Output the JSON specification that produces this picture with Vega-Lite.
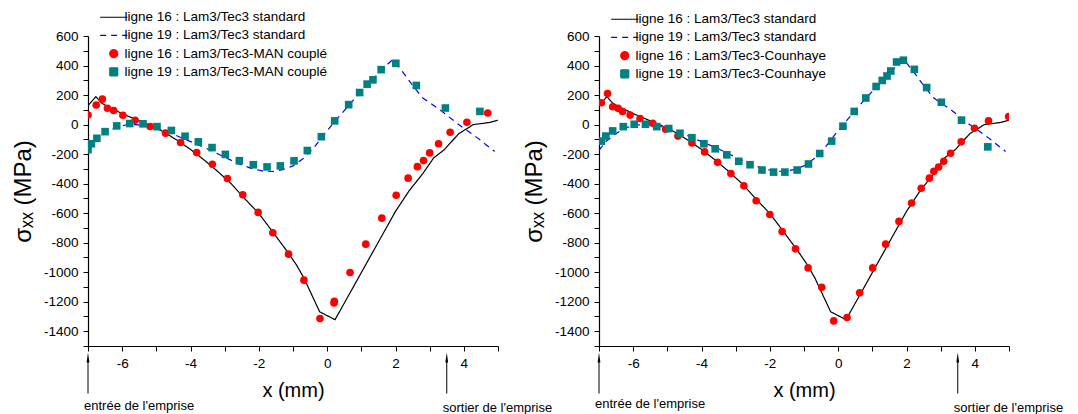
{
  "$schema": "https://vega.github.io/schema/vega-lite/v6.json",
  "background": "white",
  "padding": {"left": 11, "top": 10, "right": 5, "bottom": 0},
  "bounds": "flush",
  "spacing": 101,
  "config": {
    "view": {"stroke": null},
    "font": "Liberation Sans",
    "axis": {
      "grid": false,
      "domainColor": "#000000",
      "domainWidth": 1.2,
      "tickColor": "#000000",
      "tickWidth": 1,
      "tickSize": 5,
      "tickCount": 100,
      "labelColor": "#000000",
      "labelFont": "Liberation Sans",
      "labelFontSize": 13.5,
      "titleFont": "Liberation Sans",
      "titleFontWeight": "normal",
      "titleColor": "#000000",
      "labelFlush": false,
      "labelOverlap": false
    },
    "legend": {
      "orient": "none",
      "legendX": 14,
      "legendY": -25.5,
      "title": null,
      "labelFont": "Liberation Sans",
      "labelFontSize": 13.5,
      "labelColor": "#000000",
      "labelLimit": 400,
      "symbolSize": 64,
      "symbolOffset": 5,
      "labelOffset": 4,
      "rowPadding": 3.2,
      "symbolStrokeWidth": 1.2,
      "symbolOpacity": 1
    }
  },
  "datasets": {
    "pts": [
      {"s": "ligne 16 : Lam3/Tec3 standard", "x": -7.0, "y": 128},
      {"s": "ligne 16 : Lam3/Tec3 standard", "x": -6.77, "y": 189},
      {"s": "ligne 16 : Lam3/Tec3 standard", "x": -6.6, "y": 145},
      {"s": "ligne 16 : Lam3/Tec3 standard", "x": -6.4, "y": 118},
      {"s": "ligne 16 : Lam3/Tec3 standard", "x": -6.2, "y": 97},
      {"s": "ligne 16 : Lam3/Tec3 standard", "x": -6.0, "y": 74},
      {"s": "ligne 16 : Lam3/Tec3 standard", "x": -5.6, "y": 35},
      {"s": "ligne 16 : Lam3/Tec3 standard", "x": -5.2, "y": -3},
      {"s": "ligne 16 : Lam3/Tec3 standard", "x": -4.8, "y": -48},
      {"s": "ligne 16 : Lam3/Tec3 standard", "x": -4.4, "y": -105},
      {"s": "ligne 16 : Lam3/Tec3 standard", "x": -4.0, "y": -168},
      {"s": "ligne 16 : Lam3/Tec3 standard", "x": -3.6, "y": -240},
      {"s": "ligne 16 : Lam3/Tec3 standard", "x": -3.2, "y": -318},
      {"s": "ligne 16 : Lam3/Tec3 standard", "x": -2.8, "y": -403},
      {"s": "ligne 16 : Lam3/Tec3 standard", "x": -2.4, "y": -505},
      {"s": "ligne 16 : Lam3/Tec3 standard", "x": -2.0, "y": -602},
      {"s": "ligne 16 : Lam3/Tec3 standard", "x": -1.6, "y": -725},
      {"s": "ligne 16 : Lam3/Tec3 standard", "x": -1.2, "y": -850},
      {"s": "ligne 16 : Lam3/Tec3 standard", "x": -0.9, "y": -950},
      {"s": "ligne 16 : Lam3/Tec3 standard", "x": -0.68, "y": -1040},
      {"s": "ligne 16 : Lam3/Tec3 standard", "x": -0.22, "y": -1268},
      {"s": "ligne 16 : Lam3/Tec3 standard", "x": 0.23, "y": -1322},
      {"s": "ligne 16 : Lam3/Tec3 standard", "x": 2.0, "y": -588},
      {"s": "ligne 16 : Lam3/Tec3 standard", "x": 2.4, "y": -448},
      {"s": "ligne 16 : Lam3/Tec3 standard", "x": 2.8, "y": -332},
      {"s": "ligne 16 : Lam3/Tec3 standard", "x": 3.12, "y": -225},
      {"s": "ligne 16 : Lam3/Tec3 standard", "x": 3.42, "y": -172},
      {"s": "ligne 16 : Lam3/Tec3 standard", "x": 3.85, "y": -62},
      {"s": "ligne 16 : Lam3/Tec3 standard", "x": 4.28, "y": 0},
      {"s": "ligne 16 : Lam3/Tec3 standard", "x": 4.75, "y": 14},
      {"s": "ligne 16 : Lam3/Tec3 standard", "x": 5.0, "y": 30},

      {"s": "ligne 19 : Lam3/Tec3 standard", "x": -7.0, "y": -175},
      {"s": "ligne 19 : Lam3/Tec3 standard", "x": -6.8, "y": -115},
      {"s": "ligne 19 : Lam3/Tec3 standard", "x": -6.5, "y": -60},
      {"s": "ligne 19 : Lam3/Tec3 standard", "x": -6.2, "y": -20},
      {"s": "ligne 19 : Lam3/Tec3 standard", "x": -5.9, "y": -3},
      {"s": "ligne 19 : Lam3/Tec3 standard", "x": -5.6, "y": 0},
      {"s": "ligne 19 : Lam3/Tec3 standard", "x": -5.3, "y": -8},
      {"s": "ligne 19 : Lam3/Tec3 standard", "x": -5.0, "y": -25},
      {"s": "ligne 19 : Lam3/Tec3 standard", "x": -4.6, "y": -55},
      {"s": "ligne 19 : Lam3/Tec3 standard", "x": -4.3, "y": -86},
      {"s": "ligne 19 : Lam3/Tec3 standard", "x": -3.9, "y": -125},
      {"s": "ligne 19 : Lam3/Tec3 standard", "x": -3.5, "y": -165},
      {"s": "ligne 19 : Lam3/Tec3 standard", "x": -3.1, "y": -210},
      {"s": "ligne 19 : Lam3/Tec3 standard", "x": -2.6, "y": -265},
      {"s": "ligne 19 : Lam3/Tec3 standard", "x": -2.2, "y": -298},
      {"s": "ligne 19 : Lam3/Tec3 standard", "x": -1.9, "y": -314},
      {"s": "ligne 19 : Lam3/Tec3 standard", "x": -1.6, "y": -318},
      {"s": "ligne 19 : Lam3/Tec3 standard", "x": -1.3, "y": -305},
      {"s": "ligne 19 : Lam3/Tec3 standard", "x": -1.0, "y": -280},
      {"s": "ligne 19 : Lam3/Tec3 standard", "x": -0.7, "y": -230},
      {"s": "ligne 19 : Lam3/Tec3 standard", "x": -0.4, "y": -160},
      {"s": "ligne 19 : Lam3/Tec3 standard", "x": -0.1, "y": -70},
      {"s": "ligne 19 : Lam3/Tec3 standard", "x": 0.2, "y": 15},
      {"s": "ligne 19 : Lam3/Tec3 standard", "x": 0.5, "y": 95},
      {"s": "ligne 19 : Lam3/Tec3 standard", "x": 0.8, "y": 175},
      {"s": "ligne 19 : Lam3/Tec3 standard", "x": 1.1, "y": 250},
      {"s": "ligne 19 : Lam3/Tec3 standard", "x": 1.4, "y": 322},
      {"s": "ligne 19 : Lam3/Tec3 standard", "x": 1.7, "y": 395},
      {"s": "ligne 19 : Lam3/Tec3 standard", "x": 1.92, "y": 440},
      {"s": "ligne 19 : Lam3/Tec3 standard", "x": 2.2, "y": 360},
      {"s": "ligne 19 : Lam3/Tec3 standard", "x": 2.5, "y": 265},
      {"s": "ligne 19 : Lam3/Tec3 standard", "x": 2.8, "y": 180},
      {"s": "ligne 19 : Lam3/Tec3 standard", "x": 3.3, "y": 100},
      {"s": "ligne 19 : Lam3/Tec3 standard", "x": 3.85, "y": 0},
      {"s": "ligne 19 : Lam3/Tec3 standard", "x": 4.4, "y": -90},
      {"s": "ligne 19 : Lam3/Tec3 standard", "x": 4.9, "y": -182},

      {"s": "ligne 16 : Lam3/Tec3-MAN couplé", "x": -7.0, "y": 65},
      {"s": "ligne 16 : Lam3/Tec3-MAN couplé", "x": -6.76, "y": 133},
      {"s": "ligne 16 : Lam3/Tec3-MAN couplé", "x": -6.58, "y": 172},
      {"s": "ligne 16 : Lam3/Tec3-MAN couplé", "x": -6.43, "y": 111},
      {"s": "ligne 16 : Lam3/Tec3-MAN couplé", "x": -6.25, "y": 95},
      {"s": "ligne 16 : Lam3/Tec3-MAN couplé", "x": -5.98, "y": 63},
      {"s": "ligne 16 : Lam3/Tec3-MAN couplé", "x": -5.62, "y": 29},
      {"s": "ligne 16 : Lam3/Tec3-MAN couplé", "x": -5.18, "y": -13},
      {"s": "ligne 16 : Lam3/Tec3-MAN couplé", "x": -4.73, "y": -58},
      {"s": "ligne 16 : Lam3/Tec3-MAN couplé", "x": -4.29, "y": -121},
      {"s": "ligne 16 : Lam3/Tec3-MAN couplé", "x": -3.82, "y": -190},
      {"s": "ligne 16 : Lam3/Tec3-MAN couplé", "x": -3.36, "y": -269},
      {"s": "ligne 16 : Lam3/Tec3-MAN couplé", "x": -2.92, "y": -365},
      {"s": "ligne 16 : Lam3/Tec3-MAN couplé", "x": -2.47, "y": -475},
      {"s": "ligne 16 : Lam3/Tec3-MAN couplé", "x": -2.02, "y": -595},
      {"s": "ligne 16 : Lam3/Tec3-MAN couplé", "x": -1.59, "y": -733},
      {"s": "ligne 16 : Lam3/Tec3-MAN couplé", "x": -1.13, "y": -878},
      {"s": "ligne 16 : Lam3/Tec3-MAN couplé", "x": -0.68, "y": -1054},
      {"s": "ligne 16 : Lam3/Tec3-MAN couplé", "x": -0.21, "y": -1314},
      {"s": "ligne 16 : Lam3/Tec3-MAN couplé", "x": 0.2, "y": -1208},
      {"s": "ligne 16 : Lam3/Tec3-MAN couplé", "x": 0.21, "y": -1198},
      {"s": "ligne 16 : Lam3/Tec3-MAN couplé", "x": 0.67, "y": -1002},
      {"s": "ligne 16 : Lam3/Tec3-MAN couplé", "x": 1.13, "y": -810},
      {"s": "ligne 16 : Lam3/Tec3-MAN couplé", "x": 1.6, "y": -634},
      {"s": "ligne 16 : Lam3/Tec3-MAN couplé", "x": 2.02, "y": -479},
      {"s": "ligne 16 : Lam3/Tec3-MAN couplé", "x": 2.37, "y": -363},
      {"s": "ligne 16 : Lam3/Tec3-MAN couplé", "x": 2.64, "y": -285},
      {"s": "ligne 16 : Lam3/Tec3-MAN couplé", "x": 2.82, "y": -244},
      {"s": "ligne 16 : Lam3/Tec3-MAN couplé", "x": 3.0, "y": -192},
      {"s": "ligne 16 : Lam3/Tec3-MAN couplé", "x": 3.26, "y": -130},
      {"s": "ligne 16 : Lam3/Tec3-MAN couplé", "x": 3.6, "y": -52},
      {"s": "ligne 16 : Lam3/Tec3-MAN couplé", "x": 4.09, "y": 16},
      {"s": "ligne 16 : Lam3/Tec3-MAN couplé", "x": 4.7, "y": 78},

      {"s": "ligne 19 : Lam3/Tec3-MAN couplé", "x": -7.0, "y": -170},
      {"s": "ligne 19 : Lam3/Tec3-MAN couplé", "x": -6.9, "y": -130},
      {"s": "ligne 19 : Lam3/Tec3-MAN couplé", "x": -6.74, "y": -93},
      {"s": "ligne 19 : Lam3/Tec3-MAN couplé", "x": -6.5, "y": -48},
      {"s": "ligne 19 : Lam3/Tec3-MAN couplé", "x": -6.16, "y": -9},
      {"s": "ligne 19 : Lam3/Tec3-MAN couplé", "x": -5.78, "y": 7},
      {"s": "ligne 19 : Lam3/Tec3-MAN couplé", "x": -5.39, "y": 5},
      {"s": "ligne 19 : Lam3/Tec3-MAN couplé", "x": -4.98, "y": -14},
      {"s": "ligne 19 : Lam3/Tec3-MAN couplé", "x": -4.56, "y": -40},
      {"s": "ligne 19 : Lam3/Tec3-MAN couplé", "x": -4.16, "y": -79},
      {"s": "ligne 19 : Lam3/Tec3-MAN couplé", "x": -3.77, "y": -117},
      {"s": "ligne 19 : Lam3/Tec3-MAN couplé", "x": -3.37, "y": -156},
      {"s": "ligne 19 : Lam3/Tec3-MAN couplé", "x": -2.98, "y": -202},
      {"s": "ligne 19 : Lam3/Tec3-MAN couplé", "x": -2.57, "y": -245},
      {"s": "ligne 19 : Lam3/Tec3-MAN couplé", "x": -2.16, "y": -272},
      {"s": "ligne 19 : Lam3/Tec3-MAN couplé", "x": -1.76, "y": -287},
      {"s": "ligne 19 : Lam3/Tec3-MAN couplé", "x": -1.37, "y": -280},
      {"s": "ligne 19 : Lam3/Tec3-MAN couplé", "x": -0.97, "y": -246},
      {"s": "ligne 19 : Lam3/Tec3-MAN couplé", "x": -0.58, "y": -176},
      {"s": "ligne 19 : Lam3/Tec3-MAN couplé", "x": -0.17, "y": -82},
      {"s": "ligne 19 : Lam3/Tec3-MAN couplé", "x": 0.22, "y": 25},
      {"s": "ligne 19 : Lam3/Tec3-MAN couplé", "x": 0.63, "y": 135},
      {"s": "ligne 19 : Lam3/Tec3-MAN couplé", "x": 0.95, "y": 217},
      {"s": "ligne 19 : Lam3/Tec3-MAN couplé", "x": 1.17, "y": 274},
      {"s": "ligne 19 : Lam3/Tec3-MAN couplé", "x": 1.34, "y": 303},
      {"s": "ligne 19 : Lam3/Tec3-MAN couplé", "x": 1.58, "y": 372},
      {"s": "ligne 19 : Lam3/Tec3-MAN couplé", "x": 2.01, "y": 415},
      {"s": "ligne 19 : Lam3/Tec3-MAN couplé", "x": 2.61, "y": 265},
      {"s": "ligne 19 : Lam3/Tec3-MAN couplé", "x": 3.46, "y": 112},
      {"s": "ligne 19 : Lam3/Tec3-MAN couplé", "x": 4.47, "y": 89},

      {"s": "ligne 16 : Lam3/Tec3-Counhaye", "x": -6.93, "y": 148},
      {"s": "ligne 16 : Lam3/Tec3-Counhaye", "x": -6.75, "y": 210},
      {"s": "ligne 16 : Lam3/Tec3-Counhaye", "x": -6.6, "y": 121},
      {"s": "ligne 16 : Lam3/Tec3-Counhaye", "x": -6.44, "y": 110},
      {"s": "ligne 16 : Lam3/Tec3-Counhaye", "x": -6.31, "y": 89},
      {"s": "ligne 16 : Lam3/Tec3-Counhaye", "x": -6.09, "y": 64},
      {"s": "ligne 16 : Lam3/Tec3-Counhaye", "x": -5.8, "y": 41},
      {"s": "ligne 16 : Lam3/Tec3-Counhaye", "x": -5.43, "y": 9},
      {"s": "ligne 16 : Lam3/Tec3-Counhaye", "x": -5.05, "y": -32},
      {"s": "ligne 16 : Lam3/Tec3-Counhaye", "x": -4.69, "y": -78},
      {"s": "ligne 16 : Lam3/Tec3-Counhaye", "x": -4.28, "y": -125},
      {"s": "ligne 16 : Lam3/Tec3-Counhaye", "x": -3.91, "y": -185},
      {"s": "ligne 16 : Lam3/Tec3-Counhaye", "x": -3.53, "y": -256},
      {"s": "ligne 16 : Lam3/Tec3-Counhaye", "x": -3.14, "y": -331},
      {"s": "ligne 16 : Lam3/Tec3-Counhaye", "x": -2.76, "y": -415},
      {"s": "ligne 16 : Lam3/Tec3-Counhaye", "x": -2.4, "y": -516},
      {"s": "ligne 16 : Lam3/Tec3-Counhaye", "x": -2.0, "y": -609},
      {"s": "ligne 16 : Lam3/Tec3-Counhaye", "x": -1.64, "y": -724},
      {"s": "ligne 16 : Lam3/Tec3-Counhaye", "x": -1.25, "y": -842},
      {"s": "ligne 16 : Lam3/Tec3-Counhaye", "x": -0.88, "y": -971},
      {"s": "ligne 16 : Lam3/Tec3-Counhaye", "x": -0.48, "y": -1102},
      {"s": "ligne 16 : Lam3/Tec3-Counhaye", "x": -0.13, "y": -1330},
      {"s": "ligne 16 : Lam3/Tec3-Counhaye", "x": 0.26, "y": -1307},
      {"s": "ligne 16 : Lam3/Tec3-Counhaye", "x": 0.63, "y": -1140},
      {"s": "ligne 16 : Lam3/Tec3-Counhaye", "x": 1.01, "y": -971},
      {"s": "ligne 16 : Lam3/Tec3-Counhaye", "x": 1.39, "y": -810},
      {"s": "ligne 16 : Lam3/Tec3-Counhaye", "x": 1.78, "y": -656},
      {"s": "ligne 16 : Lam3/Tec3-Counhaye", "x": 2.15, "y": -531},
      {"s": "ligne 16 : Lam3/Tec3-Counhaye", "x": 2.43, "y": -431},
      {"s": "ligne 16 : Lam3/Tec3-Counhaye", "x": 2.67, "y": -363},
      {"s": "ligne 16 : Lam3/Tec3-Counhaye", "x": 2.8, "y": -317},
      {"s": "ligne 16 : Lam3/Tec3-Counhaye", "x": 2.94, "y": -287},
      {"s": "ligne 16 : Lam3/Tec3-Counhaye", "x": 3.09, "y": -249},
      {"s": "ligne 16 : Lam3/Tec3-Counhaye", "x": 3.29, "y": -194},
      {"s": "ligne 16 : Lam3/Tec3-Counhaye", "x": 3.6, "y": -116},
      {"s": "ligne 16 : Lam3/Tec3-Counhaye", "x": 3.99, "y": -25},
      {"s": "ligne 16 : Lam3/Tec3-Counhaye", "x": 4.4, "y": 25},
      {"s": "ligne 16 : Lam3/Tec3-Counhaye", "x": 4.99, "y": 55},

      {"s": "ligne 19 : Lam3/Tec3-Counhaye", "x": -6.93, "y": -112},
      {"s": "ligne 19 : Lam3/Tec3-Counhaye", "x": -6.8, "y": -78},
      {"s": "ligne 19 : Lam3/Tec3-Counhaye", "x": -6.6, "y": -43},
      {"s": "ligne 19 : Lam3/Tec3-Counhaye", "x": -6.29, "y": -14},
      {"s": "ligne 19 : Lam3/Tec3-Counhaye", "x": -5.97, "y": 2},
      {"s": "ligne 19 : Lam3/Tec3-Counhaye", "x": -5.64, "y": 2},
      {"s": "ligne 19 : Lam3/Tec3-Counhaye", "x": -5.31, "y": -14},
      {"s": "ligne 19 : Lam3/Tec3-Counhaye", "x": -4.96, "y": -27},
      {"s": "ligne 19 : Lam3/Tec3-Counhaye", "x": -4.63, "y": -59},
      {"s": "ligne 19 : Lam3/Tec3-Counhaye", "x": -4.28, "y": -89},
      {"s": "ligne 19 : Lam3/Tec3-Counhaye", "x": -3.93, "y": -130},
      {"s": "ligne 19 : Lam3/Tec3-Counhaye", "x": -3.6, "y": -164},
      {"s": "ligne 19 : Lam3/Tec3-Counhaye", "x": -3.26, "y": -205},
      {"s": "ligne 19 : Lam3/Tec3-Counhaye", "x": -2.91, "y": -249},
      {"s": "ligne 19 : Lam3/Tec3-Counhaye", "x": -2.58, "y": -272},
      {"s": "ligne 19 : Lam3/Tec3-Counhaye", "x": -2.23, "y": -308},
      {"s": "ligne 19 : Lam3/Tec3-Counhaye", "x": -1.89, "y": -322},
      {"s": "ligne 19 : Lam3/Tec3-Counhaye", "x": -1.56, "y": -322},
      {"s": "ligne 19 : Lam3/Tec3-Counhaye", "x": -1.2, "y": -308},
      {"s": "ligne 19 : Lam3/Tec3-Counhaye", "x": -0.87, "y": -267},
      {"s": "ligne 19 : Lam3/Tec3-Counhaye", "x": -0.54, "y": -196},
      {"s": "ligne 19 : Lam3/Tec3-Counhaye", "x": -0.19, "y": -112},
      {"s": "ligne 19 : Lam3/Tec3-Counhaye", "x": 0.14, "y": -11},
      {"s": "ligne 19 : Lam3/Tec3-Counhaye", "x": 0.47, "y": 89},
      {"s": "ligne 19 : Lam3/Tec3-Counhaye", "x": 0.81, "y": 180},
      {"s": "ligne 19 : Lam3/Tec3-Counhaye", "x": 1.11, "y": 258},
      {"s": "ligne 19 : Lam3/Tec3-Counhaye", "x": 1.29, "y": 299},
      {"s": "ligne 19 : Lam3/Tec3-Counhaye", "x": 1.43, "y": 329},
      {"s": "ligne 19 : Lam3/Tec3-Counhaye", "x": 1.54, "y": 363},
      {"s": "ligne 19 : Lam3/Tec3-Counhaye", "x": 1.71, "y": 424},
      {"s": "ligne 19 : Lam3/Tec3-Counhaye", "x": 1.91, "y": 436},
      {"s": "ligne 19 : Lam3/Tec3-Counhaye", "x": 2.23, "y": 374},
      {"s": "ligne 19 : Lam3/Tec3-Counhaye", "x": 2.59, "y": 251},
      {"s": "ligne 19 : Lam3/Tec3-Counhaye", "x": 3.02, "y": 151},
      {"s": "ligne 19 : Lam3/Tec3-Counhaye", "x": 3.61, "y": 30},
      {"s": "ligne 19 : Lam3/Tec3-Counhaye", "x": 4.38, "y": -151}
    ],
    "ann": [
      {"x": -7, "lab": "entrée de l'emprise", "k": "in"},
      {"x": 3.5, "lab": "sortier de l'emprise", "k": "out"}
    ]
  },
  "hconcat": [
    {
      "width": 410,
      "height": 310,
      "layer": [
        {
          "data": {"name": "pts"},
          "transform": [{"filter": {"field": "s", "oneOf": ["ligne 16 : Lam3/Tec3 standard", "ligne 19 : Lam3/Tec3 standard"]}}],
          "mark": {"type": "line", "clip": true, "strokeWidth": 1.2},
          "encoding": {
            "x": {"field": "x", "type": "quantitative",
              "scale": {"domain": [-7, 5], "nice": false, "zero": false},
              "axis": {"title": "x (mm)", "titleFontSize": 20, "titlePadding": 11,
                "values": [-7, -6, -5, -4, -3, -2, -1, 0, 1, 2, 3, 4, 5],
                "labelExpr": "datum.value % 2 === 0 ? '' + datum.value : ''",
                "labelPadding": 5,
                "encode": {"ticks": {"y2": {"value": {"expr": "datum.value % 2 === 0 ? 6 : 3.5"}}}}}},
            "y": {"field": "y", "type": "quantitative",
              "scale": {"domain": [-1500, 600], "nice": false, "zero": false},
              "axis": {"title": "σₓₓ (MPa)", "titleFontSize": 24, "titlePadding": 8,
                "values": [-1500, -1400, -1300, -1200, -1100, -1000, -900, -800, -700, -600, -500, -400, -300, -200, -100, 0, 100, 200, 300, 400, 500, 600],
                "labelExpr": "datum.value % 200 === 0 ? '' + datum.value : ''",
                "labelPadding": 5,
                "encode": {"ticks": {"x2": {"value": {"expr": "datum.value % 200 === 0 ? -6 : -3.5"}}}}}},
            "color": {"field": "s", "type": "nominal",
              "scale": {"domain": ["ligne 16 : Lam3/Tec3 standard", "ligne 19 : Lam3/Tec3 standard", "ligne 16 : Lam3/Tec3-MAN couplé", "ligne 19 : Lam3/Tec3-MAN couplé"],
                        "range": ["#000000", "#0000ff", "#ff0000", "#008080"]}},
            "strokeDash": {"field": "s", "type": "nominal",
              "scale": {"domain": ["ligne 16 : Lam3/Tec3 standard", "ligne 19 : Lam3/Tec3 standard", "ligne 16 : Lam3/Tec3-MAN couplé", "ligne 19 : Lam3/Tec3-MAN couplé"],
                        "range": [[1, 0], [6, 5], [1, 0], [1, 0]]}}
          }
        },
        {
          "data": {"name": "pts"},
          "transform": [{"filter": {"field": "s", "oneOf": ["ligne 16 : Lam3/Tec3-MAN couplé", "ligne 19 : Lam3/Tec3-MAN couplé"]}}],
          "mark": {"type": "point", "clip": true, "filled": true, "opacity": 1, "size": 58},
          "encoding": {
            "x": {"field": "x", "type": "quantitative"},
            "y": {"field": "y", "type": "quantitative"},
            "color": {"field": "s", "type": "nominal"},
            "shape": {"field": "s", "type": "nominal",
              "scale": {"domain": ["ligne 16 : Lam3/Tec3 standard", "ligne 19 : Lam3/Tec3 standard", "ligne 16 : Lam3/Tec3-MAN couplé", "ligne 19 : Lam3/Tec3-MAN couplé"],
                        "range": ["M-3.4,0H3.4", "M-3.4,0H3.4", "circle", "square"]}}
          }
        },
        {
          "data": {"name": "ann"},
          "mark": {"type": "rule", "color": "#000000", "strokeWidth": 1},
          "encoding": {
            "x": {"field": "x", "type": "quantitative"},
            "y": {"datum": -1590},
            "y2": {"datum": -1822}
          }
        },
        {
          "data": {"name": "ann"},
          "mark": {"type": "point", "shape": "M0,-1L0.28,1L-0.28,1Z", "filled": true, "color": "#000000", "opacity": 1, "size": 100},
          "encoding": {
            "x": {"field": "x", "type": "quantitative"},
            "y": {"datum": -1578}
          }
        },
        {
          "data": {"name": "ann"},
          "transform": [{"filter": "datum.k == 'in'"}],
          "mark": {"type": "text", "align": "left", "baseline": "middle", "dx": -4, "font": "Liberation Sans", "fontSize": 13, "color": "#000000"},
          "encoding": {
            "x": {"field": "x", "type": "quantitative"},
            "y": {"datum": -1905},
            "text": {"field": "lab"}
          }
        },
        {
          "data": {"name": "ann"},
          "transform": [{"filter": "datum.k == 'out'"}],
          "mark": {"type": "text", "align": "left", "baseline": "middle", "dx": -4, "font": "Liberation Sans", "fontSize": 13, "color": "#000000"},
          "encoding": {
            "x": {"field": "x", "type": "quantitative"},
            "y": {"datum": -1920},
            "text": {"field": "lab"}
          }
        }
      ]
    },
    {
      "width": 410,
      "height": 310,
      "layer": [
        {
          "data": {"name": "pts"},
          "transform": [{"filter": {"field": "s", "oneOf": ["ligne 16 : Lam3/Tec3 standard", "ligne 19 : Lam3/Tec3 standard"]}}],
          "mark": {"type": "line", "clip": true, "strokeWidth": 1.2},
          "encoding": {
            "x": {"field": "x", "type": "quantitative",
              "scale": {"domain": [-7, 5], "nice": false, "zero": false},
              "axis": {"title": "x (mm)", "titleFontSize": 20, "titlePadding": 11,
                "values": [-7, -6, -5, -4, -3, -2, -1, 0, 1, 2, 3, 4, 5],
                "labelExpr": "datum.value % 2 === 0 ? '' + datum.value : ''",
                "labelPadding": 5,
                "encode": {"ticks": {"y2": {"value": {"expr": "datum.value % 2 === 0 ? 6 : 3.5"}}}}}},
            "y": {"field": "y", "type": "quantitative",
              "scale": {"domain": [-1500, 600], "nice": false, "zero": false},
              "axis": {"title": "σₓₓ (MPa)", "titleFontSize": 24, "titlePadding": 8,
                "values": [-1500, -1400, -1300, -1200, -1100, -1000, -900, -800, -700, -600, -500, -400, -300, -200, -100, 0, 100, 200, 300, 400, 500, 600],
                "labelExpr": "datum.value % 200 === 0 ? '' + datum.value : ''",
                "labelPadding": 5,
                "encode": {"ticks": {"x2": {"value": {"expr": "datum.value % 200 === 0 ? -6 : -3.5"}}}}}},
            "color": {"field": "s", "type": "nominal",
              "scale": {"domain": ["ligne 16 : Lam3/Tec3 standard", "ligne 19 : Lam3/Tec3 standard", "ligne 16 : Lam3/Tec3-Counhaye", "ligne 19 : Lam3/Tec3-Counhaye"],
                        "range": ["#000000", "#0000ff", "#ff0000", "#008080"]},
              "legend": {"legendY": -23.5}},
            "strokeDash": {"field": "s", "type": "nominal",
              "scale": {"domain": ["ligne 16 : Lam3/Tec3 standard", "ligne 19 : Lam3/Tec3 standard", "ligne 16 : Lam3/Tec3-Counhaye", "ligne 19 : Lam3/Tec3-Counhaye"],
                        "range": [[1, 0], [6, 5], [1, 0], [1, 0]]}}
          }
        },
        {
          "data": {"name": "pts"},
          "transform": [{"filter": {"field": "s", "oneOf": ["ligne 16 : Lam3/Tec3-Counhaye", "ligne 19 : Lam3/Tec3-Counhaye"]}}],
          "mark": {"type": "point", "clip": true, "filled": true, "opacity": 1, "size": 58},
          "encoding": {
            "x": {"field": "x", "type": "quantitative"},
            "y": {"field": "y", "type": "quantitative"},
            "color": {"field": "s", "type": "nominal"},
            "shape": {"field": "s", "type": "nominal",
              "scale": {"domain": ["ligne 16 : Lam3/Tec3 standard", "ligne 19 : Lam3/Tec3 standard", "ligne 16 : Lam3/Tec3-Counhaye", "ligne 19 : Lam3/Tec3-Counhaye"],
                        "range": ["M-3.4,0H3.4", "M-3.4,0H3.4", "circle", "square"]}}
          }
        },
        {
          "data": {"name": "ann"},
          "mark": {"type": "rule", "color": "#000000", "strokeWidth": 1},
          "encoding": {
            "x": {"field": "x", "type": "quantitative"},
            "y": {"datum": -1590},
            "y2": {"datum": -1822}
          }
        },
        {
          "data": {"name": "ann"},
          "mark": {"type": "point", "shape": "M0,-1L0.28,1L-0.28,1Z", "filled": true, "color": "#000000", "opacity": 1, "size": 100},
          "encoding": {
            "x": {"field": "x", "type": "quantitative"},
            "y": {"datum": -1578}
          }
        },
        {
          "data": {"name": "ann"},
          "transform": [{"filter": "datum.k == 'in'"}],
          "mark": {"type": "text", "align": "left", "baseline": "middle", "dx": -4, "font": "Liberation Sans", "fontSize": 13, "color": "#000000"},
          "encoding": {
            "x": {"field": "x", "type": "quantitative"},
            "y": {"datum": -1890},
            "text": {"field": "lab"}
          }
        },
        {
          "data": {"name": "ann"},
          "transform": [{"filter": "datum.k == 'out'"}],
          "mark": {"type": "text", "align": "left", "baseline": "middle", "dx": -4, "font": "Liberation Sans", "fontSize": 13, "color": "#000000"},
          "encoding": {
            "x": {"field": "x", "type": "quantitative"},
            "y": {"datum": -1920},
            "text": {"field": "lab"}
          }
        }
      ]
    }
  ],
  "resolve": {
    "scale": {"color": "independent", "shape": "independent", "strokeDash": "independent"},
    "legend": {"color": "independent", "shape": "independent", "strokeDash": "independent"}
  }
}
